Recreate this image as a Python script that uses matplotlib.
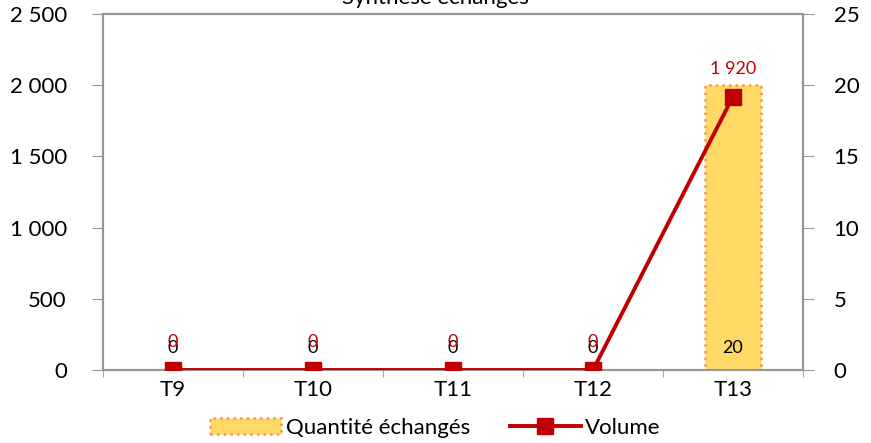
import matplotlib.pyplot as plt
import numpy as np
from matplotlib.patches import Patch
from matplotlib.lines import Line2D

plt.rcParams['font.family'] = ['Lato', 'DejaVu Sans']

categories = ['T9', 'T10', 'T11', 'T12', 'T13']
quantite = [0, 0, 0, 0, 20]
volume = [0, 0, 0, 0, 1920]
left_ticks = [0, 500, 1000, 1500, 2000, 2500]
left_labels = ['0', '500', '1 000', '1 500', '2 000', '2 500']
right_ticks = [0, 5, 10, 15, 20, 25]

gray = '#969696'
red = '#C00000'

fig = plt.figure(figsize=(8.71, 4.43), dpi=100)
ax = fig.add_axes([103 / 871, 1 - 370 / 443, 700 / 871, 356 / 443])
ax2 = ax.twinx()

x = np.arange(len(categories))

# bars on the right axis, drawn below the line
ax2.bar(x, quantite, width=0.4, color='#FFD966', edgecolor='#F79646',
        linestyle=':', linewidth=1.8, zorder=1)
ax2.set_ylim(0, 25)
ax2.set_yticks(right_ticks)
for xi, q in zip(x, quantite):
    ax2.text(xi, 1.0, str(q), ha='center', va='bottom', fontsize=13, color='black')

ax.set_zorder(ax2.get_zorder() + 1)
ax.patch.set_visible(False)
ax.plot(x, volume, color=red, linewidth=2.8, marker='s', markersize=11, zorder=3)
for xi, v in zip(x, volume):
    lab = f'{v:,}'.replace(',', ' ')
    ax.text(xi, v + 140, lab, ha='center', va='bottom', fontsize=13, color=red)

ax.set_xlim(-0.5, len(categories) - 0.5)
ax.set_ylim(0, 2500)
ax.set_yticks(left_ticks)
ax.set_yticklabels(left_labels)
ax.set_xticks(x)
ax.set_xticklabels(categories)
ax.set_xticks(np.arange(-0.5, len(categories)), minor=True)
ax.tick_params(axis='x', which='major', length=0, labelsize=16, pad=7)
ax.tick_params(axis='x', which='minor', length=5, color=gray, direction='out')
ax.tick_params(axis='y', length=8, color=gray, labelsize=16, pad=18)
ax2.tick_params(axis='y', length=8, color=gray, labelsize=16, pad=14)
for a in (ax, ax2):
    for s in a.spines.values():
        s.set_color(gray)
        s.set_linewidth(1.5)

fig.text(0.5, 1.005, 'Synthèse échangés', ha='center', va='center', fontsize=16)

handles = [Patch(facecolor='#FFD966', edgecolor='#F79646', linestyle=':', linewidth=1.8),
           Line2D([0], [0], color=red, linewidth=2.8, marker='s', markersize=11)]
fig.legend(handles, ['Quantité échangés', 'Volume'], loc='center', bbox_to_anchor=(0.5, 1 - 428 / 443),
           ncol=2, frameon=False, fontsize=16, handlelength=3.2, handletextpad=0.2,
           columnspacing=1.8, borderpad=0)

fig.savefig('out.png', dpi=100)
